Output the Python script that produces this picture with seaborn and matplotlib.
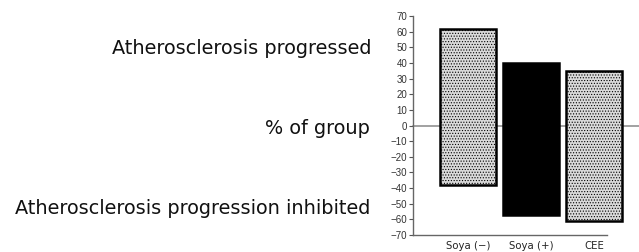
import matplotlib
matplotlib.use("Agg")
import matplotlib.pyplot as plt
import seaborn as sns
import pandas as pd

groups = ["Soya (\u2212)", "Soya (+)", "CEE"]
progressed = [62, 40, 35]
inhibited = [-38, -57, -61]
yticks = list(range(-70, 71, 10))

sns.set_theme(style="white")
plt.rcParams['font.family'] = ['Liberation Sans', 'DejaVu Sans']
plt.rcParams['hatch.color'] = '#a8a8a8'
plt.rcParams['hatch.linewidth'] = 0.5

df = pd.DataFrame({"group": groups, "up": progressed, "down": inhibited})

fig = plt.figure(figsize=(6.39, 2.52), dpi=100)
ax = fig.add_axes([413/639, 1-235/252, 1-413/639, (235-16)/252])

fills = ["#dadada", "#000000", "#dadada"]
sns.barplot(data=df, x="group", y="up", hue="group", palette=fills,
            legend=False, width=0.88, ax=ax, edgecolor="black",
            linewidth=1.8, saturation=1)

# each bar spans from its "inhibited" share to its "progressed" share
for i, p in enumerate(ax.patches):
    p.set_y(inhibited[i])
    p.set_height(progressed[i] - inhibited[i])
    if fills[i] != "#000000":
        p.set_hatch("......")
        if hasattr(p, "set_hatchcolor"):
            p.set_hatchcolor('#a8a8a8')

ax.set_ylim(-70, 70)
ax.set_xlim(-0.87, 2.71)
ax.axhline(0, color="#9a9a9a", lw=1.3, zorder=0, clip_on=False)
ax.set_yticks(yticks)
ax.set_yticklabels([("\u2212" + str(-t)) if t < 0 else str(t) for t in yticks],
                   fontsize=7, color="#333333")
ax.tick_params(axis="y", left=True, length=3, width=0.8, color="#555555", pad=1)
ax.tick_params(axis="x", bottom=False, length=0, pad=4)
for lab in ax.get_xticklabels():
    lab.set_fontfamily("DejaVu Sans")
    lab.set_fontsize(7.3)
    lab.set_color("#222222")
ax.set_xlabel("")
ax.set_ylabel("")
for s in ["top", "right"]:
    ax.spines[s].set_visible(False)
for s in ["left", "bottom"]:
    ax.spines[s].set_color("#666666")
    ax.spines[s].set_linewidth(1)
ax.spines["bottom"].set_bounds(-0.87, 2.2)

tk = dict(ha="right", va="center", fontsize=13.9, family=["DejaVu Sans"], color="#111111")
fig.text(371/639, 1-49/252, "Atherosclerosis progressed", **tk)
fig.text(370/639, 1-128/252, "% of group", **tk)
fig.text(370/639, 1-209/252, "Atherosclerosis progression inhibited", **tk)

fig.savefig("out.png", dpi=100)
